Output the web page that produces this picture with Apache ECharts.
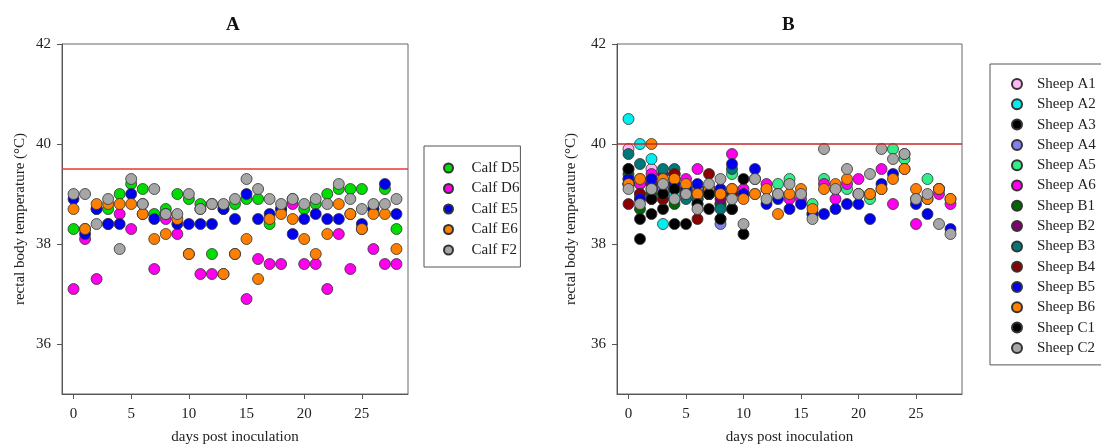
<!DOCTYPE html>
<html>
<head>
<meta charset="utf-8">
<script src="https://cdn.jsdelivr.net/npm/echarts@6/dist/echarts.min.js"></script>
<style>
    html, body { margin: 0; padding: 0; background: #fff; }
    #chart { width: 1101px; height: 446px; }
</style>
</head>
<body>
<div id="chart"></div>
<script>
var days = [0, 1, 2, 3, 4, 5, 6, 7, 8, 9, 10, 11, 12, 13, 14, 15, 16, 17, 18, 19, 20, 21, 22, 23, 24, 25, 26, 27, 28];
var xTicks = [0, 5, 10, 15, 20, 25];
var yTicks = [36, 38, 40, 42];
var thresholdA = 39.5;
var thresholdB = 40;

// panel A - calves
var calfD5 = [38.3, 38.3, 38.7, 38.7, 39.0, 39.2, 39.1, 38.6, 38.7, 39.0, 38.9, 38.8, 37.8, 38.7, 38.8, 38.9, 38.9, 38.4, 38.7, 38.9, 38.7, 38.8, 39.0, 39.1, 39.1, 39.1, 38.7, 39.1, 38.3];
var calfD6 = [37.1, 38.1, 37.3, 38.4, 38.6, 38.3, 38.8, 37.5, 38.5, 38.2, 37.8, 37.4, 37.4, 37.4, 37.8, 36.9, 37.7, 37.6, 37.6, 38.8, 37.6, 37.6, 37.1, 38.2, 37.5, 38.3, 37.9, 37.6, 37.6];
var calfE5 = [38.9, 38.2, 38.7, 38.4, 38.4, 39.0, 38.6, 38.5, 38.6, 38.4, 38.4, 38.4, 38.4, 38.7, 38.5, 39.0, 38.5, 38.6, 38.7, 38.2, 38.5, 38.6, 38.5, 38.5, 38.6, 38.4, 38.7, 39.2, 38.6];
var calfE6 = [38.7, 38.3, 38.8, 38.8, 38.8, 38.8, 38.6, 38.1, 38.2, 38.5, 37.8, 38.7, 38.8, 37.4, 37.8, 38.1, 37.3, 38.5, 38.6, 38.5, 38.1, 37.8, 38.2, 38.8, 38.6, 38.3, 38.6, 38.6, 37.9];
var calfF2 = [39.0, 39.0, 38.4, 38.9, 37.9, 39.3, 38.8, 39.1, 38.6, 38.6, 39.0, 38.7, 38.8, 38.8, 38.9, 39.3, 39.1, 38.9, 38.8, 38.9, 38.8, 38.9, 38.8, 39.2, 38.9, 38.7, 38.8, 38.8, 38.9];

// panel B - sheep (null = not measured)
var sheepA1 = [39.9, 39.2, 39.5, 39.1, 39.3, 39.2, 39.1, 39.0, 39.0, 39.1, null, null, null, null, null, null, null, null, null, null, null, null, null, null, null, null, null, null, null];
var sheepA2 = [40.5, 40.0, 39.7, 38.4, 39.0, 39.0, 39.0, 39.0, 39.0, 39.0, null, null, null, null, null, null, null, null, null, null, null, null, null, null, null, null, null, null, null];
var sheepA3 = [39.5, 38.1, 38.6, 38.7, 38.4, 38.4, 38.8, 38.7, 38.5, 38.7, 38.2, null, null, null, null, null, null, null, null, null, null, null, null, null, null, null, null, null, null];
var sheepA4 = [39.2, 38.9, 39.2, 39.1, 39.1, 39.1, 39.1, 39.1, 38.4, 39.0, null, null, null, null, null, null, null, null, null, null, null, null, null, null, null, null, null, null, null];
var sheepA5 = [39.3, 39.3, 39.3, 39.2, 39.2, 39.0, 38.9, 39.0, 39.0, 39.4, 39.0, 39.3, 39.1, 39.2, 39.3, 39.0, 38.8, 39.3, 39.1, 39.1, 39.0, 38.9, 39.1, 39.9, 39.7, 38.9, 39.3, 39.1, 38.9];
var sheepA6 = [39.2, 39.2, 39.4, 39.0, 39.4, 39.3, 39.5, 39.1, 38.8, 39.8, 39.1, 39.0, 39.2, 39.0, 38.9, 38.9, 38.6, 39.2, 38.9, 39.2, 39.3, 39.0, 39.5, 38.8, 39.5, 38.4, 38.9, 39.0, 38.8];
var sheepB1 = [39.4, 38.7, 39.0, 38.9, 38.8, 39.0, 38.9, 39.0, 38.8, 39.0, null, null, null, null, null, null, null, null, null, null, null, null, null, null, null, null, null, null, null];
var sheepB2 = [39.2, 39.0, 39.2, 39.4, 39.4, 39.1, 39.0, 39.1, 38.9, 39.0, null, null, null, null, null, null, null, null, null, null, null, null, null, null, null, null, null, null, null];
var sheepB3 = [39.8, 39.6, 39.1, 39.5, 39.5, 38.9, 38.9, 39.0, 38.7, 39.5, null, null, null, null, null, null, null, null, null, null, null, null, null, null, null, null, null, null, null];
var sheepB4 = [38.8, 39.0, 38.9, 38.9, 39.4, 39.0, 38.5, 39.4, 39.0, 39.0, null, null, null, null, null, null, null, null, null, null, null, null, null, null, null, null, null, null, null];
var sheepB5 = [39.3, 38.9, 39.3, 39.2, 39.2, 39.1, 39.2, 39.1, 39.1, 39.6, 39.0, 39.5, 38.8, 38.9, 38.7, 38.8, 38.6, 38.6, 38.7, 38.8, 38.8, 38.5, 39.2, 39.4, 39.8, 38.8, 38.6, 39.1, 38.3];
var sheepB6 = [39.2, 39.3, 40.0, 39.3, 39.3, 39.2, 39.0, 39.1, 39.0, 39.1, 38.9, 39.0, 39.1, 38.6, 39.0, 39.1, 38.7, 39.1, 39.2, 39.3, 39.0, 39.0, 39.1, 39.3, 39.5, 39.1, 38.9, 39.1, 38.9];
var sheepC1 = [39.5, 38.5, 38.9, 39.0, 39.1, 39.0, 38.8, 39.0, 38.5, 38.7, 39.3, null, null, null, null, null, null, null, null, null, null, null, null, null, null, null, null, null, null];
var sheepC2 = [39.1, 38.8, 39.1, 39.2, 38.9, 39.0, 38.7, 39.2, 39.3, 38.9, 38.4, 39.3, 38.9, 39.0, 39.2, 39.0, 38.5, 39.9, 39.1, 39.5, 39.0, 39.4, 39.9, 39.7, 39.8, 38.9, 39.0, 38.4, 38.2];

var calfNames = ['Calf D5', 'Calf D6', 'Calf E5', 'Calf E6', 'Calf F2'];
var calfValues = [calfD5, calfD6, calfE5, calfE6, calfF2];
var calfColors = ['#00dd00', '#ff00ee', '#0000ee', '#ff8000', '#a6a6a6'];

var sheepNames = ['Sheep A1', 'Sheep A2', 'Sheep A3', 'Sheep A4', 'Sheep A5', 'Sheep A6', 'Sheep B1',
    'Sheep B2', 'Sheep B3', 'Sheep B4', 'Sheep B5', 'Sheep B6', 'Sheep C1', 'Sheep C2'];
var sheepValues = [sheepA1, sheepA2, sheepA3, sheepA4, sheepA5, sheepA6, sheepB1,
    sheepB2, sheepB3, sheepB4, sheepB5, sheepB6, sheepC1, sheepC2];
var sheepColors = ['#ffb6f2', '#00eeee', '#000000', '#8080f0', '#33ee88', '#ff00ee', '#006600',
    '#800070', '#007878', '#8b0000', '#0000ee', '#ff8000', '#000000', '#a6a6a6'];

var serif = 'Liberation Serif';

function toPoints(values) {
    var pts = [];
    for (var i = 0; i < days.length; i++) {
        if (values[i] !== null) {
            pts.push([days[i], values[i]]);
        }
    }
    return pts;
}

function makeSeries(names, values, colors, idx, threshold, lineColor) {
    var arr = [];
    for (var i = 0; i < names.length; i++) {
        var s = {
            name: names[i],
            type: 'scatter',
            xAxisIndex: idx,
            yAxisIndex: idx,
            symbol: 'circle',
            symbolSize: 11,
            itemStyle: { color: colors[i], borderColor: '#333', borderWidth: 0.8, opacity: 1 },
            emphasis: { disabled: true },
            data: toPoints(values[i])
        };
        if (i == 0) {
            s.markLine = {
                silent: true,
                symbol: 'none',
                label: { show: false },
                lineStyle: { color: lineColor, width: 1.6, type: 'solid' },
                data: [{ yAxis: threshold }]
            };
        }
        arr.push(s);
    }
    return arr;
}

function makeX(idx) {
    return {
        type: 'value', gridIndex: idx, min: -1, max: 29,
        name: 'days post inoculation', nameLocation: 'middle', nameGap: 36,
        nameTextStyle: { fontFamily: serif, fontSize: 15, color: '#222' },
        axisLine: { show: true, onZero: false, lineStyle: { color: '#555' } },
        axisTick: { show: true, customValues: xTicks, length: 5, lineStyle: { color: '#555' } },
        axisLabel: { customValues: xTicks, fontFamily: serif, fontSize: 15, color: '#222', margin: 13 },
        splitLine: { show: false }
    };
}

function makeY(idx, gap) {
    return {
        type: 'value', gridIndex: idx, min: 35, max: 42,
        name: 'rectal body temperature (°C)', nameLocation: 'middle', nameGap: gap,
        nameTextStyle: { fontFamily: serif, fontSize: 15, color: '#222' },
        axisLine: { show: true, onZero: false, lineStyle: { color: '#555' } },
        axisTick: { show: true, customValues: yTicks, length: 5, lineStyle: { color: '#555' } },
        axisLabel: { customValues: yTicks, fontFamily: serif, fontSize: 15, color: '#222', margin: 11 },
        splitLine: { show: false }
    };
}

var myChart = echarts.init(document.getElementById('chart'), null, { renderer: 'canvas' });
myChart.setOption({
    animation: false,
    backgroundColor: '#fff',
    title: [
        { text: 'A', left: 221, top: 11, textStyle: { fontFamily: serif, fontSize: 19, fontWeight: 'bold', color: '#111' } },
        { text: 'B', left: 777, top: 11, textStyle: { fontFamily: serif, fontSize: 19, fontWeight: 'bold', color: '#111' } }
    ],
    grid: [
        { left: 62, top: 44, width: 346, height: 350, show: true, borderColor: '#666', borderWidth: 1, outerBoundsMode: 'none' },
        { left: 617, top: 44, width: 345, height: 350, show: true, borderColor: '#666', borderWidth: 1, outerBoundsMode: 'none' }
    ],
    xAxis: [makeX(0), makeX(1)],
    yAxis: [makeY(0, 34), makeY(1, 38)],
    legend: [
        {
            data: calfNames, orient: 'vertical', left: 424, top: 146,
            padding: [14, 1, 9, 19], itemGap: 4.5, itemWidth: 36, itemHeight: 9,
            borderColor: '#555', borderWidth: 1,
            textStyle: { fontFamily: serif, fontSize: 15, lineHeight: 16, color: '#222' }
        },
        {
            data: sheepNames, orient: 'vertical', left: 990, top: 64,
            padding: [12, 30, 9, 21], itemGap: 4.3, itemWidth: 30, itemHeight: 10,
            borderColor: '#555', borderWidth: 1,
            textStyle: { fontFamily: serif, fontSize: 15, lineHeight: 16, color: '#222' }
        }
    ],
    series: makeSeries(calfNames, calfValues, calfColors, 0, thresholdA, '#e53935')
        .concat(makeSeries(sheepNames, sheepValues, sheepColors, 1, thresholdB, '#c62828'))
});
</script>
</body>
</html>
